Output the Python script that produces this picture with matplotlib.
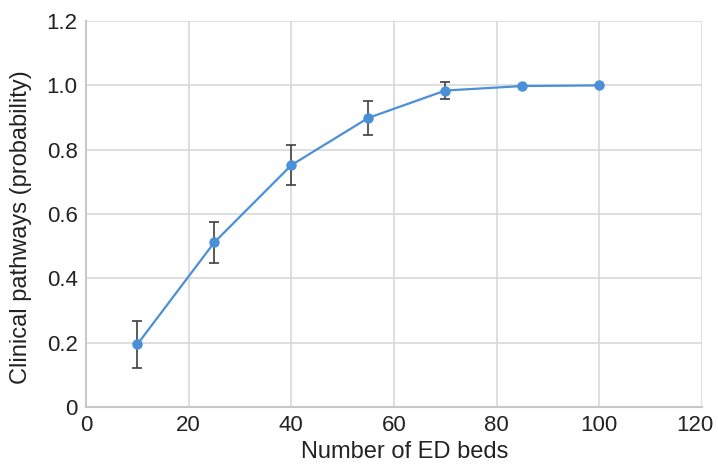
import matplotlib
matplotlib.use("Agg")
import matplotlib.pyplot as plt
import matplotlib.transforms as mtransforms

# data
beds = [10, 25, 40, 55, 70, 85, 100]
prob = [0.195, 0.512, 0.752, 0.899, 0.984, 0.998, 1.0]
err = [0.074, 0.063, 0.063, 0.053, 0.025, 0.0, 0.0]

xticks = [0, 20, 40, 60, 80, 100, 120]
yticks = [0, 0.2, 0.4, 0.6, 0.8, 1.0, 1.2]
ylabels = ["0", "0.2", "0.4", "0.6", "0.8", "1.0", "1.2"]

plt.rcParams['font.family'] = ['Liberation Sans', 'DejaVu Sans']

fig = plt.figure(figsize=(7.18, 4.68), dpi=100)
ax = fig.add_axes([0.1198, 0.1303, 0.8579, 0.8247])

ax.errorbar(beds, prob, yerr=err, fmt='none', ecolor='#404040',
            elinewidth=1.2, capsize=3.5, capthick=1.2, zorder=2)
ax.plot(beds, prob, color='#4a90d9', lw=1.6, marker='o', ms=6.5,
        markerfacecolor='#4a90d9', markeredgecolor='#4a90d9', zorder=3)

ax.set_xlim(0, 120)
ax.set_ylim(0, 1.2)
ax.set_xticks(xticks)
ax.set_yticks(yticks)
ax.set_yticklabels(ylabels)
ax.grid(True, color='#d9d9d9', lw=1.2)
ax.set_axisbelow(True)

for s in ['top', 'right']:
    ax.spines[s].set_visible(False)
for s in ['left', 'bottom']:
    ax.spines[s].set_color('#c8c8c8')
    ax.spines[s].set_linewidth(1.5)

ax.tick_params(length=0, labelsize=16, colors='#222222', pad=6)
ax.set_xlabel('Number of ED beds', fontsize=17, color='#222222')
ax.set_ylabel('Clinical pathways (probability)', fontsize=17, color='#222222')
ax.xaxis.set_label_coords(0.518, -0.088)
ax.yaxis.set_label_coords(-0.088, 0.466)

# last x label pulled in so it stays inside the figure, like the reference
last = ax.get_xticklabels()[-1]
last.set_transform(last.get_transform() +
                   mtransforms.ScaledTranslation(-7 / 100, 0, fig.dpi_scale_trans))

fig.savefig('out.png', dpi=100)
